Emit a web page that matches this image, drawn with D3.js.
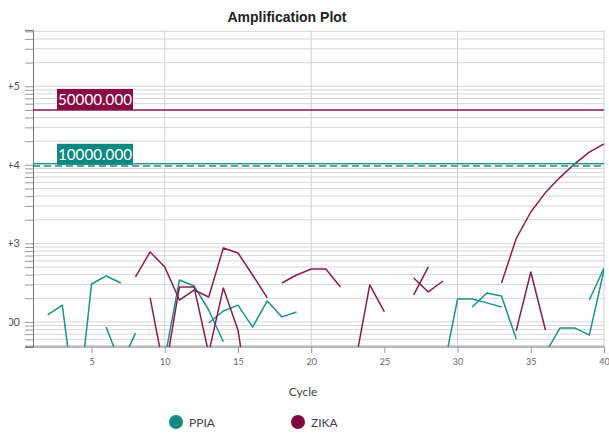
<!DOCTYPE html>
<html>
<head>
<meta charset="utf-8">
<script src="https://cdn.jsdelivr.net/npm/d3@7"></script>
<style>
  body { margin: 0; background: #fff; }
  text { font-family: Lato, "Open Sans", sans-serif; }
</style>
</head>
<body>
<div id="chart"></div>
<script>
// cycle at which each well's trace starts, then its delta Rn per cycle
var ppiaStart = [2, 6, 10, 13, 29, 31, 36, 39];
var ppiaValues = [
  [123, 164, 6, 304, 385, 313],
  [86, 28, 72],
  [34, 342, 287, 142, 56],
  [97, 138, 164, 86, 185, 116, 134],
  [23, 196, 196, 175, 155],
  [155, 234, 214, 61],
  [40, 84, 84, 68, 459],
  [190, 486]
];
var zikaStart = [8, 9, 18, 23, 27, 27, 33, 34];
var zikaValues = [
  [374, 778, 501, 190, 255, 208, 874, 755, 396, 202],
  [202, 22, 279, 279, 40, 271, 79, 5],
  [313, 396, 472, 472, 279],
  [29, 296, 134],
  [221, 501],
  [363, 241, 332],
  [313, 1150, 2510, 4430, 6930, 10300, 14500, 18400],
  [77, 433, 79]
];
var targets = ["PPIA", "ZIKA"];
var thresholdValues = [10000, 50000];
var xTicks = [5, 10, 15, 20, 25, 30, 35, 40];
var xGrid = [10, 20, 30, 40];
var yLabelled = [100, 1000, 10000, 100000];

var colors = {PPIA: "#1b928b", ZIKA: "#8a1d50"};
var boxColors = {PPIA: "#0e8880", ZIKA: "#880c45"};
var legendColors = {PPIA: "#148a82", ZIKA: "#7e0b3d"};

var width = 609, height = 434;
var svg = d3.select("#chart").append("svg")
  .attr("width", width)
  .attr("height", height);

var x = d3.scaleLinear().domain([1, 40]).range([33, 604]);
var y = d3.scaleLog().domain([48, 520000]).range([347, 30]);

//title
svg.append("text")
  .attr("x", 287)
  .attr("y", 22)
  .attr("text-anchor", "middle")
  .style("font-family", "'Liberation Sans', Arial, sans-serif")
  .style("font-weight", "bold")
  .style("font-size", "14px")
  .style("fill", "#222")
  .text("Amplification Plot");

//horizontal gridlines at every log tick
var gridVals = y.ticks();
svg.append("g")
  .selectAll("line")
  .data(gridVals)
  .enter().append("line")
    .attr("x1", 33).attr("x2", 604)
    .attr("y1", function (d) { return y(d); })
    .attr("y2", function (d) { return y(d); })
    .style("stroke", "#d6d6d6")
    .style("stroke-width", 1);

//vertical gridlines
svg.append("g")
  .selectAll("line")
  .data(xGrid)
  .enter().append("line")
    .attr("x1", function (d) { return x(d); })
    .attr("x2", function (d) { return x(d); })
    .attr("y1", 30).attr("y2", 347)
    .style("stroke", "#cfcfcf");

//y axis: ticks from d3, labels drawn separately and clipped at the left edge
var yg = svg.append("g")
  .attr("transform", "translate(33,0)")
  .call(d3.axisLeft(y).tickValues(gridVals).tickSize(8).tickFormat(""));
yg.select(".domain").style("stroke", "#777");
yg.selectAll(".tick line").style("stroke", "#999");

svg.append("clipPath").attr("id", "labclip")
  .append("rect").attr("x", 9).attr("y", 0).attr("width", 30).attr("height", 434);

svg.append("g")
  .attr("clip-path", "url(#labclip)")
  .selectAll("text")
  .data(yLabelled)
  .enter().append("text")
    .attr("x", 20)
    .attr("y", function (d) { return y(d); })
    .attr("dy", "0.35em")
    .attr("text-anchor", "end")
    .style("font-size", "11px")
    .style("fill", "#555")
    .text(function (d) { return d == 100 ? "100" : "1.0E+" + Math.round(Math.log10(d)); });

//x axis
svg.append("line")
  .attr("x1", 25).attr("x2", 604)
  .attr("y1", 347).attr("y2", 347)
  .style("stroke", "#777");

var xg = svg.append("g")
  .attr("transform", "translate(0,347)")
  .call(d3.axisBottom(x).tickValues(xTicks).tickSize(6).tickPadding(6));
xg.select(".domain").remove();
xg.selectAll(".tick line").style("stroke", "#999");
xg.selectAll(".tick text")
  .style("font-size", "9px")
  .style("fill", "#666");

svg.append("text")
  .attr("x", 303)
  .attr("y", 396)
  .attr("text-anchor", "middle")
  .style("font-size", "12px")
  .style("fill", "#444")
  .text("Cycle");

//traces
svg.append("clipPath").attr("id", "plotclip")
  .append("rect").attr("x", 33).attr("y", 30).attr("width", 571).attr("height", 317);

var line = d3.line()
  .x(function (d) { return x(d[0]); })
  .y(function (d) { return y(d[1]); });

var plot = svg.append("g").attr("clip-path", "url(#plotclip)");

function drawWells(starts, values, target) {
  values.forEach(function (vals, i) {
    var pts = vals.map(function (v, j) { return [starts[i] + j, v]; });
    plot.append("path")
      .datum(pts)
      .attr("d", line)
      .style("fill", "none")
      .style("stroke", colors[target])
      .style("stroke-width", 1.5)
      .style("stroke-linejoin", "round");
  });
}
drawWells(ppiaStart, ppiaValues, "PPIA");
drawWells(zikaStart, zikaValues, "ZIKA");

//threshold lines with their value boxes
targets.forEach(function (t, i) {
  var ty = y(thresholdValues[i]);
  if (t == "PPIA") {
    svg.append("line")
      .attr("x1", 33).attr("x2", 604)
      .attr("y1", ty - 1.2).attr("y2", ty - 1.2)
      .style("stroke", colors[t]).style("stroke-width", 1.2);
    svg.append("line")
      .attr("x1", 33).attr("x2", 604)
      .attr("y1", ty + 1.3).attr("y2", ty + 1.3)
      .style("stroke", colors[t]).style("stroke-width", 1.5)
      .style("stroke-dasharray", "7,4");
  } else {
    svg.append("line")
      .attr("x1", 33).attr("x2", 604)
      .attr("y1", ty).attr("y2", ty)
      .style("stroke", colors[t]).style("stroke-width", 1.5);
  }
  svg.append("rect")
    .attr("x", 57).attr("y", ty - 21)
    .attr("width", 76).attr("height", 21)
    .style("fill", boxColors[t]);
  svg.append("text")
    .attr("x", 58).attr("y", ty - 5)
    .attr("textLength", 74)
    .attr("lengthAdjust", "spacingAndGlyphs")
    .style("font-size", "15px")
    .style("fill", "#fff")
    .text(d3.format(".3f")(thresholdValues[i]));
});

//legend
var legend = svg.append("g");
targets.forEach(function (t, i) {
  var lx = 176 + i * 122;
  legend.append("circle")
    .attr("cx", lx).attr("cy", 422).attr("r", 7)
    .style("fill", legendColors[t]);
  legend.append("text")
    .attr("x", lx + 13).attr("y", 426.5)
    .style("font-size", "12px")
    .style("fill", "#444")
    .text(t);
});
</script>
</body>
</html>
